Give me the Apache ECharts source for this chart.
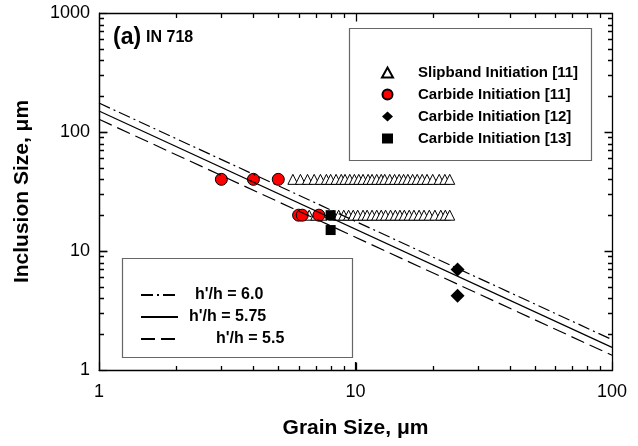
<!DOCTYPE html>
<html><head><meta charset="utf-8">
<script src="https://cdn.jsdelivr.net/npm/echarts@6/dist/echarts.min.js"></script>
<style>html,body{margin:0;padding:0;background:#fff}#wrap{position:relative;width:638px;height:446px}#c{width:638px;height:446px}#ov{position:absolute;left:0;top:0;pointer-events:none}</style>
</head><body><div id="wrap"><div id="c"></div><canvas id="ov" width="638" height="446"></canvas></div>
<script>
// ---- data ----
const xTicks = [1, 10, 100];
const yTicks = [1, 10, 100, 1000];
const slipTopX = [5.7, 6.1, 6.5, 6.9, 7.3, 7.7, 8.0, 8.4, 8.8, 9.1, 9.5, 9.9, 10.3, 10.7, 11.2, 11.6, 12.1, 12.6, 13.0, 13.6, 14.2, 14.8, 15.4, 16.0, 16.7, 17.4, 18.2, 19.0, 20.0, 21.2, 22.3, 23.3];
const slipTopY = 40;
const slipBotX = [6.6, 7.0, 7.4, 8.2, 8.6, 9.0, 9.4, 9.8, 10.2, 10.7, 11.1, 11.6, 12.1, 12.6, 13.1, 13.7, 14.3, 14.9, 15.5, 16.2, 16.9, 17.7, 18.5, 19.4, 20.4, 21.5, 22.4, 23.3];
const slipBotY = 20;
const carb11X = [3, 4, 5, 6, 6.2, 7.2];
const carb11Y = [40, 40, 40, 20, 20, 20];
const carb12X = [25, 25];
const carb12Y = [7, 4.2];
const carb13X = [8, 8];
const carb13Y = [20, 15];
const modelX = [1, 100];
const model60 = [175, 1.8];
const model575 = [150, 1.55];
const model55 = [128, 1.33];
const minorX = [2, 3, 4, 5, 6, 7, 8, 9, 20, 30, 40, 50, 60, 70, 80, 90];
const minorY = [2, 3, 4, 5, 6, 7, 8, 9, 20, 30, 40, 50, 60, 70, 80, 90, 200, 300, 400, 500, 600, 700, 800, 900];

const FF = '"Liberation Sans", Arial, sans-serif';
const zip = (xs, ys) => xs.map((x, i) => [x, Array.isArray(ys) ? ys[i] : ys]);
const slipData = zip(slipTopX, slipTopY).concat(zip(slipBotX, slipBotY));
const GRID = { left: 99, right: 26, top: 13, bottom: 76 };

const chart = echarts.init(document.getElementById('c'));
function axisBase() {
  return {
    type: 'log', logBase: 10,
    axisLine: { show: true, onZero: false, lineStyle: { color: '#000', width: 1.2 } },
    axisTick: { show: true, inside: true, length: 8, lineStyle: { color: '#000', width: 1.2 } },
    splitLine: { show: false },
    minorTick: { show: false }
  };
}
const labelFmt = v => String(Math.round(v));

const option = {
  animation: false,
  backgroundColor: '#fff',
  grid: Object.assign({ containLabel: false }, GRID),
  xAxis: [
    Object.assign(axisBase(), {
      min: xTicks[0], max: xTicks[xTicks.length - 1], position: 'bottom',
      name: 'Grain Size, \u03bcm', nameLocation: 'middle', nameGap: 48,
      nameTextStyle: { fontFamily: FF, fontWeight: 'bold', fontSize: 21, color: '#000' },
      axisLabel: { show: true, margin: 13, fontFamily: FF, fontSize: 18, color: '#000', formatter: labelFmt }
    })
  ],
  yAxis: [
    Object.assign(axisBase(), {
      min: yTicks[0], max: yTicks[yTicks.length - 1], position: 'left',
      name: 'Inclusion Size, \u03bcm', nameLocation: 'middle', nameGap: 66, nameRotate: 90,
      nameTextStyle: { fontFamily: FF, fontWeight: 'bold', fontSize: 21, color: '#000' },
      axisLabel: { show: true, margin: 9, fontFamily: FF, fontSize: 18, color: '#000', formatter: labelFmt }
    })
  ],
  title: [
    { text: '{a|(a)} {b|IN 718}', left: 108, top: 21,
      textStyle: { rich: {
        a: { fontFamily: FF, fontWeight: 'bold', fontSize: 23, color: '#000' },
        b: { fontFamily: FF, fontWeight: 'bold', fontSize: 16, color: '#000' } } } },
    { text: 'Experimental Data', left: 358, top: 31,
      textStyle: { fontFamily: FF, fontWeight: 'bold', fontSize: 15, color: '#000' } },
    { text: 'Critical Inclusion Model', left: 129, top: 256,
      textStyle: { fontFamily: FF, fontWeight: 'bold', fontSize: 15, color: '#000' } }
  ],
  graphic: [
    { type: 'rect', shape: { x: 349.5, y: 28.5, width: 242, height: 132 }, z: 50,
      style: { fill: '#fff', stroke: '#666', lineWidth: 1.2 } },
    { type: 'rect', shape: { x: 122.5, y: 258.5, width: 230, height: 99 }, z: 50,
      style: { fill: '#fff', stroke: '#666', lineWidth: 1.2 } }
  ],
  legend: [
    { data: ['Slipband Initiation [11]', 'Carbide Initiation [11]', 'Carbide Initiation [12]', 'Carbide Initiation [13]'],
      orient: 'vertical', left: 376, top: 59, itemWidth: 11, itemHeight: 10, itemGap: 5,
      selectedMode: false, z: 60, symbolKeepAspect: true,
      formatter: n => '{t|' + n + '}',
      textStyle: { fontFamily: FF, fontWeight: 'bold', fontSize: 15, color: '#000', lineHeight: 17,
        rich: { t: { fontFamily: FF, fontWeight: 'bold', fontSize: 15, color: '#000', padding: [0, 0, 0, 20], height: 17 } } } },
    { data: ["h'/h = 6.0", "h'/h = 5.75", "h'/h = 5.5"],
      orient: 'vertical', left: 135, top: 282, itemWidth: 37, itemHeight: 12, itemGap: 6,
      selectedMode: false, z: 60,
      itemStyle: { color: 'rgba(0,0,0,0)', borderColor: 'rgba(0,0,0,0)', borderWidth: 0, opacity: 0 },
      formatter: function (n) { return n === "h'/h = 6.0" ? '{a|' + n + '}' : (n === "h'/h = 5.75" ? '{b|' + n + '}' : '{c|' + n + '}'); },
      textStyle: { fontFamily: FF, fontWeight: 'bold', fontSize: 16, color: '#000',
        rich: {
          a: { fontFamily: FF, fontWeight: 'bold', fontSize: 16, color: '#000', padding: [0, 0, 0, 12], height: 18 },
          b: { fontFamily: FF, fontWeight: 'bold', fontSize: 16, color: '#000', padding: [0, 0, 0, 6], height: 18 },
          c: { fontFamily: FF, fontWeight: 'bold', fontSize: 16, color: '#000', padding: [0, 0, 0, 33], height: 18 }
        } } }
  ],
  series: [
    { name: 'Slipband Initiation [11]', type: 'scatter', symbol: 'triangle', symbolSize: 10, z: 3,
      itemStyle: { color: '#fff', borderColor: '#000', borderWidth: 1, opacity: 1 }, data: slipData },
    { name: 'Carbide Initiation [11]', type: 'scatter', symbol: 'circle', symbolSize: 12, z: 4,
      itemStyle: { color: '#ff0000', borderColor: '#000', borderWidth: 1, opacity: 1 }, data: zip(carb11X, carb11Y) },
    { name: 'Carbide Initiation [12]', type: 'scatter', symbol: 'diamond', symbolSize: 14, z: 4,
      itemStyle: { color: '#000', opacity: 1 }, data: zip(carb12X, carb12Y) },
    { name: 'Carbide Initiation [13]', type: 'scatter', symbol: 'rect', symbolSize: 10, z: 4,
      itemStyle: { color: '#000', opacity: 1 }, data: zip(carb13X, carb13Y) },
    { name: "h'/h = 6.0", type: 'line', showSymbol: false, symbol: 'none', z: 5,
      lineStyle: { color: '#000', width: 1.2, type: [12, 4, 2, 4] }, itemStyle: { color: '#000' },
      data: zip(modelX, model60) },
    { name: "h'/h = 5.75", type: 'line', showSymbol: false, symbol: 'none', z: 5,
      lineStyle: { color: '#000', width: 1.2, type: 'solid' }, itemStyle: { color: '#000' },
      data: zip(modelX, model575) },
    { name: "h'/h = 5.5", type: 'line', showSymbol: false, symbol: 'none', z: 5,
      lineStyle: { color: '#000', width: 1.2, type: [14, 6] }, itemStyle: { color: '#000' },
      data: zip(modelX, model55) }
  ]
};
chart.setOption(option);

// Plot frame and inward tick marks on an overlay canvas, positioned through the axes' own scales.
(function () {
  const W = 638, H = 446;
  const gw = W - GRID.left - GRID.right, gh = H - GRID.top - GRID.bottom;
  const lx = Math.log10(xTicks[0]), hx = Math.log10(xTicks[xTicks.length - 1]);
  const ly = Math.log10(yTicks[0]), hy = Math.log10(yTicks[yTicks.length - 1]);
  const px = v => { let p; try { p = chart.convertToPixel({ xAxisIndex: 0 }, v); } catch (e) {}
    if (typeof p !== 'number' || !isFinite(p)) p = GRID.left + gw * (Math.log10(v) - lx) / (hx - lx); return p; };
  const py = v => { let p; try { p = chart.convertToPixel({ yAxisIndex: 0 }, v); } catch (e) {}
    if (typeof p !== 'number' || !isFinite(p)) p = GRID.top + gh * (1 - (Math.log10(v) - ly) / (hy - ly)); return p; };
  const ctx = document.getElementById('ov').getContext('2d');
  ctx.strokeStyle = '#000';
  ctx.lineWidth = 1.3;
  const x0 = Math.round(px(xTicks[0])) + 0.5, x1 = Math.round(px(xTicks[xTicks.length - 1])) + 0.5;
  const y0 = Math.round(py(yTicks[0])) + 0.5, y1 = Math.round(py(yTicks[yTicks.length - 1])) + 0.5;
  ctx.beginPath();
  ctx.rect(x0, y1, x1 - x0, y0 - y1);
  const ln = (a, b, c, d) => { ctx.moveTo(a, b); ctx.lineTo(c, d); };
  const xt = (vals, L) => vals.forEach(v => { const x = Math.round(px(v)) + 0.5; ln(x, y0, x, y0 - L); ln(x, y1, x, y1 + L); });
  const yt = (vals, L) => vals.forEach(v => { const y = Math.round(py(v)) + 0.5; ln(x0, y, x0 + L, y); ln(x1, y, x1 - L, y); });
  xt(xTicks, 8); xt(minorX, 4.5); yt(yTicks, 8); yt(minorY, 4.5);
  ctx.stroke();
})();
</script></body></html>
